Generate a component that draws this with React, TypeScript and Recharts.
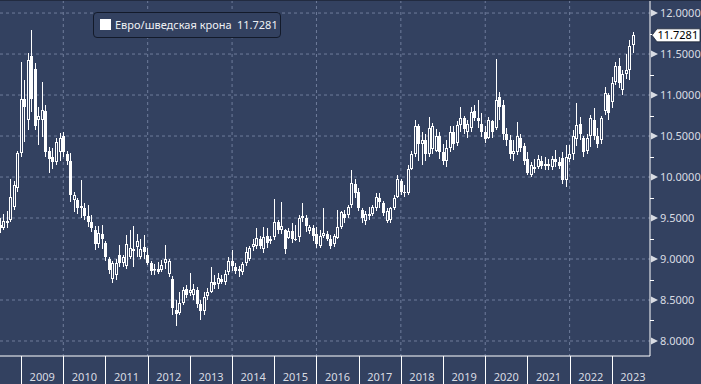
import React from 'react';
import { ComposedChart, Bar, XAxis, YAxis, CartesianGrid } from 'recharts';

// ---------- data (monthly candles, June 2008 – June 2023) ----------
const SERIES_NAME = 'Евро/шведская крона';
const FIRST_YEAR = 2008;
const FIRST_MONTH = 6; // June 2008 (candles sit at month end)

const openValues: number[] = [
  9.42, 9.38, 9.46, 9.48, 9.64, 9.86, 10.29,
  10.95, 10.70, 11.48, 11.32, 10.70, 10.70, 10.80, 10.32, 10.25, 10.18, 10.30, 10.50,
  10.28, 10.20, 9.72, 9.72, 9.62, 9.62, 9.52, 9.45, 9.35, 9.18, 9.30, 9.20,
  9.00, 8.76, 8.80, 9.05, 8.95, 8.92, 9.02, 9.12, 9.15, 9.03, 9.15, 9.05,
  8.95, 8.86, 8.88, 8.86, 8.95, 8.82, 8.76, 8.38, 8.34, 8.46, 8.64, 8.58,
  8.56, 8.62, 8.45, 8.36, 8.55, 8.60, 8.72, 8.70, 8.76, 8.72, 8.84, 8.98,
  8.90, 8.85, 8.84, 8.95, 9.00, 9.15, 9.16, 9.25, 9.12, 9.28, 9.22, 9.27,
  9.45, 9.35, 9.35, 9.26, 9.34, 9.25, 9.27, 9.50, 9.50, 9.34, 9.38, 9.30,
  9.16, 9.28, 9.30, 9.25, 9.18, 9.26, 9.39, 9.55, 9.54, 9.66, 9.92, 9.82,
  9.60, 9.46, 9.55, 9.55, 9.62, 9.75, 9.68, 9.46, 9.48, 9.62, 9.76, 9.95,
  9.82, 9.80, 10.10, 10.28, 10.62, 10.40, 10.45, 10.28, 10.34, 10.32, 10.50, 10.30,
  10.20, 10.35, 10.55, 10.42, 10.64, 10.72, 10.55, 10.60, 10.80, 10.72, 10.65, 10.55,
  10.48, 10.68, 10.60, 10.98, 10.88, 10.52, 10.45, 10.28, 10.30, 10.48, 10.38, 10.22,
  10.03, 10.12, 10.12, 10.20, 10.14, 10.16, 10.12, 10.22, 10.18, 10.23, 9.96, 10.22,
  10.28, 10.46, 10.65, 10.48, 10.32, 10.50, 10.70, 10.50, 10.45, 10.80, 11.00, 10.92,
  11.16, 11.35, 11.06, 11.26, 11.30, 11.61,
];

const highValues: number[] = [
  9.50, 9.55, 9.58, 9.98, 9.95, 10.32, 11.40,
  11.18, 11.51, 11.79, 11.39, 10.85, 11.16, 10.88, 10.37, 10.35, 10.47, 10.54, 10.55,
  10.32, 10.29, 9.82, 9.74, 9.96, 9.68, 9.66, 9.54, 9.40, 9.40, 9.42, 9.22,
  9.03, 8.97, 9.00, 9.17, 9.05, 9.29, 9.35, 9.40, 9.30, 9.25, 9.29, 9.14,
  8.97, 8.94, 8.96, 8.99, 9.17, 9.00, 8.79, 8.50, 8.60, 8.66, 8.68, 8.83,
  8.70, 8.66, 8.50, 8.60, 8.65, 8.90, 8.80, 8.83, 8.80, 8.86, 9.02, 9.11,
  8.95, 8.92, 8.96, 9.15, 9.16, 9.24, 9.38, 9.28, 9.39, 9.38, 9.28, 9.73,
  9.48, 9.70, 9.36, 9.38, 9.44, 9.41, 9.54, 9.68, 9.54, 9.42, 9.41, 9.39,
  9.35, 9.62, 9.34, 9.29, 9.30, 9.60, 9.58, 9.60, 9.66, 10.09, 9.98, 9.87,
  9.62, 9.58, 9.63, 9.66, 9.80, 9.80, 9.71, 9.62, 9.64, 9.78, 10.02, 9.98,
  9.90, 10.15, 10.32, 10.70, 10.65, 10.55, 10.52, 10.73, 10.66, 10.58, 10.55, 10.40,
  10.45, 10.62, 10.62, 10.68, 10.85, 10.74, 10.70, 10.86, 10.88, 10.94, 10.78, 10.62,
  10.73, 10.70, 11.44, 11.04, 10.94, 10.60, 10.51, 10.45, 10.67, 10.52, 10.41, 10.30,
  10.18, 10.22, 10.27, 10.26, 10.24, 10.22, 10.26, 10.33, 10.25, 10.30, 10.39, 10.39,
  10.57, 10.90, 10.73, 10.50, 10.52, 10.76, 10.84, 10.60, 10.75, 11.10, 11.02, 11.22,
  11.40, 11.45, 11.30, 11.50, 11.67, 11.77,
];

const lowValues: number[] = [
  9.32, 9.35, 9.38, 9.45, 9.60, 9.82, 10.24,
  10.43, 10.57, 10.79, 10.57, 10.39, 10.49, 10.24, 10.05, 10.10, 10.15, 10.20, 10.24,
  10.15, 9.70, 9.57, 9.55, 9.50, 9.48, 9.39, 9.33, 9.11, 9.14, 9.12, 8.98,
  8.82, 8.71, 8.74, 8.90, 8.90, 8.88, 9.00, 8.90, 9.02, 9.00, 9.00, 8.93,
  8.80, 8.80, 8.82, 8.84, 8.88, 8.78, 8.32, 8.18, 8.32, 8.44, 8.52, 8.55,
  8.50, 8.40, 8.26, 8.32, 8.50, 8.58, 8.64, 8.64, 8.70, 8.68, 8.80, 8.85,
  8.82, 8.78, 8.80, 8.92, 8.97, 9.10, 9.12, 9.12, 9.07, 9.14, 9.18, 9.23,
  9.30, 9.30, 9.06, 9.24, 9.20, 9.22, 9.21, 9.45, 9.33, 9.30, 9.22, 9.13,
  9.13, 9.26, 9.22, 9.12, 9.15, 9.24, 9.37, 9.44, 9.50, 9.62, 9.75, 9.58,
  9.44, 9.42, 9.48, 9.52, 9.58, 9.62, 9.52, 9.44, 9.44, 9.60, 9.74, 9.78,
  9.76, 9.78, 10.08, 10.25, 10.20, 10.15, 10.20, 10.25, 10.28, 10.30, 10.22, 10.15,
  10.12, 10.30, 10.33, 10.38, 10.55, 10.52, 10.48, 10.55, 10.68, 10.60, 10.49, 10.42,
  10.46, 10.48, 10.57, 10.70, 10.45, 10.38, 10.22, 10.20, 10.27, 10.30, 10.15, 10.02,
  10.00, 10.05, 10.10, 10.10, 10.08, 10.08, 10.09, 10.12, 10.10, 9.92, 9.88, 10.18,
  10.21, 10.38, 10.45, 10.24, 10.28, 10.37, 10.45, 10.35, 10.40, 10.76, 10.70, 10.84,
  11.12, 11.08, 11.00, 11.20, 11.18, 11.51,
];

const closeValues: number[] = [
  9.38, 9.46, 9.44, 9.76, 9.90, 10.29, 10.95,
  10.85, 11.43, 10.95, 10.62, 10.74, 10.82, 10.30, 10.22, 10.18, 10.43, 10.48, 10.30,
  10.20, 9.78, 9.78, 9.62, 9.65, 9.52, 9.45, 9.38, 9.18, 9.32, 9.25, 9.02,
  8.86, 8.95, 8.95, 8.95, 9.02, 9.18, 9.13, 9.10, 9.22, 9.12, 9.08, 8.95,
  8.85, 8.88, 8.84, 8.93, 9.00, 8.97, 8.40, 8.33, 8.46, 8.62, 8.56, 8.62,
  8.64, 8.45, 8.36, 8.54, 8.60, 8.72, 8.68, 8.77, 8.72, 8.82, 8.98, 8.92,
  8.85, 8.88, 8.94, 9.08, 9.14, 9.18, 9.26, 9.16, 9.27, 9.20, 9.25, 9.45,
  9.35, 9.40, 9.12, 9.34, 9.25, 9.24, 9.50, 9.52, 9.40, 9.39, 9.28, 9.18,
  9.28, 9.32, 9.25, 9.16, 9.28, 9.39, 9.57, 9.50, 9.63, 9.93, 9.80, 9.62,
  9.50, 9.55, 9.52, 9.63, 9.76, 9.70, 9.56, 9.58, 9.62, 9.75, 9.98, 9.82,
  9.80, 10.10, 10.28, 10.62, 10.40, 10.45, 10.28, 10.60, 10.62, 10.50, 10.30, 10.20,
  10.35, 10.55, 10.40, 10.64, 10.72, 10.58, 10.65, 10.79, 10.72, 10.68, 10.55, 10.46,
  10.70, 10.55, 10.94, 10.85, 10.52, 10.45, 10.28, 10.32, 10.50, 10.35, 10.20, 10.05,
  10.15, 10.10, 10.22, 10.14, 10.16, 10.13, 10.22, 10.18, 10.14, 9.96, 10.25, 10.28,
  10.50, 10.63, 10.52, 10.30, 10.48, 10.72, 10.50, 10.40, 10.72, 11.02, 10.78, 11.15,
  11.36, 11.15, 11.26, 11.30, 11.60, 11.7281,
];

const YEAR_TICKS = [2009, 2010, 2011, 2012, 2013, 2014, 2015, 2016, 2017, 2018, 2019, 2020, 2021, 2022, 2023];
const GRID_YEARS = [2010, 2012, 2014, 2016, 2018, 2020, 2022];
const PRICE_TICKS = [8, 8.5, 9, 9.5, 10, 10.5, 11, 11.5, 12];
const MINOR_PRICE_TICKS = [8.25, 8.75, 9.25, 9.75, 10.25, 10.75, 11.25, 11.75];

// ---------- layout / style ----------
const W = 701;
const H = 384;
const Y_AXIS_W = 51;
const X_AXIS_H = 28;
const X_MIN = 2008.5;
const X_MAX = 2023.905;
const Y_MIN = 7.817;
const Y_MAX = 12.159;
const BG = '#334160';
const GRID = '#6f7c9b';
const AXIS = '#ffffff';
const LABEL = '#d9dce3';
const FONT = "'Noto Sans', sans-serif";

const LAST = closeValues[closeValues.length - 1];
const YEAR_PX = (W - Y_AXIS_W) / (X_MAX - X_MIN);

const data = openValues.map((o, i) => ({
  t: FIRST_YEAR + (FIRST_MONTH + i) / 12,
  o,
  h: highValues[i],
  l: lowValues[i],
  c: closeValues[i],
  range: [lowValues[i], highValues[i]],
}));

function Candle(props: any) {
  const { x, y, width, height, payload } = props;
  if (x == null || y == null || !payload) return null;
  const { o, h, l, c } = payload;
  const top = Math.min(y, y + height);
  const bot = Math.max(y, y + height);
  const k = h > l ? (bot - top) / (h - l) : 0;
  const py = (v: number) => top + (h - v) * k;
  const cx = Math.round(x + width / 2);
  const wTop = Math.round(py(h));
  const wBot = Math.round(py(l));
  const bTop = Math.round(py(Math.max(o, c)));
  const bBot = Math.round(py(Math.min(o, c)));
  const up = c >= o;
  return (
    <g>
      <line x1={cx + 0.5} x2={cx + 0.5} y1={wTop} y2={wBot} stroke="#ffffff" strokeWidth={1} />
      {up ? (
        <rect
          x={cx - 0.5}
          y={bTop + 0.5}
          width={2}
          height={Math.max(bBot - bTop - 1, 0.5)}
          fill={BG}
          stroke="#ffffff"
          strokeWidth={1}
        />
      ) : (
        <rect x={cx - 1} y={bTop} width={3} height={Math.max(bBot - bTop, 1)} fill="#ffffff" />
      )}
    </g>
  );
}

function YearTick(props: any) {
  const { x, y, payload } = props;
  const px = Math.round(x) + 0.5;
  return (
    <g>
      <line x1={px} x2={px} y1={y} y2={y + X_AXIS_H} stroke={AXIS} strokeWidth={1} />
      <text
        x={x + YEAR_PX / 2}
        y={y + 25}
        textAnchor="middle"
        fill={LABEL}
        fontSize={11}
        fontFamily={FONT}
      >
        {payload.value}
      </text>
    </g>
  );
}

function PriceTick(props: any) {
  const { x, y, payload } = props;
  const v = payload.value;
  if (v === LAST) {
    return (
      <g>
        <polygon
          points={`${x + 2},${y} ${x + 7},${y - 6.5} ${x + 50},${y - 6.5} ${x + 50},${y + 6.5} ${x + 7},${y + 6.5}`}
          fill="#ffffff"
          stroke="#1c2436"
          strokeWidth={0.8}
        />
        <text x={x + 7.5} y={y} dy="0.36em" fill="#000000" fontSize={11} fontFamily={FONT}>
          {LAST.toFixed(4)}
        </text>
      </g>
    );
  }
  if (PRICE_TICKS.includes(v)) {
    return (
      <g>
        <polygon points={`${x + 1},${y - 3.5} ${x + 8},${y} ${x + 1},${y + 3.5}`} fill={LABEL} />
        <text x={x + 10} y={y} dy="0.36em" fill={LABEL} fontSize={11} fontFamily={FONT}>
          {v.toFixed(4)}
        </text>
      </g>
    );
  }
  const py = Math.round(y) + 0.5;
  return <line x1={x} x2={x + 4} y1={py} y2={py} stroke={AXIS} strokeWidth={1} />;
}

export default function App() {
  return (
    <div
      style={{
        position: 'fixed',
        left: 0,
        top: 0,
        width: W,
        height: H,
        background: BG,
        fontFamily: FONT,
        overflow: 'hidden',
      }}
    >
      <ComposedChart width={W} height={H} data={data} margin={{ top: 0, right: 0, bottom: 0, left: 0 }}>
        <CartesianGrid
          stroke={GRID}
          strokeDasharray="3 3"
          horizontalValues={PRICE_TICKS}
          verticalValues={GRID_YEARS}
        />
        <XAxis
          dataKey="t"
          type="number"
          domain={[X_MIN, X_MAX]}
          allowDataOverflow
          ticks={YEAR_TICKS}
          interval={0}
          height={X_AXIS_H}
          axisLine={{ stroke: AXIS, strokeWidth: 1 }}
          tickLine={false}
          tickSize={0}
          tickMargin={0}
          tick={<YearTick />}
        />
        <YAxis
          orientation="right"
          type="number"
          domain={[Y_MIN, Y_MAX]}
          allowDataOverflow
          ticks={[...MINOR_PRICE_TICKS, ...PRICE_TICKS, LAST]}
          interval={0}
          width={Y_AXIS_W}
          axisLine={{ stroke: AXIS, strokeWidth: 1 }}
          tickLine={false}
          tickSize={0}
          tickMargin={0}
          tick={<PriceTick />}
        />
        <Bar dataKey="range" barSize={3} shape={<Candle />} isAnimationActive={false} />
      </ComposedChart>
      <div style={{ position: 'absolute', left: 0, top: 0, width: W, height: 1, background: '#222b40' }} />
      <div
        style={{
          position: 'absolute',
          left: 93,
          top: 12,
          width: 188,
          height: 26,
          border: '1px solid #131a2a',
          borderRadius: 4,
          boxSizing: 'border-box',
          background: BG,
          color: '#eef0f4',
          fontSize: 11,
        }}
      >
        <div style={{ position: 'absolute', left: 6, top: 6, width: 11, height: 11, background: '#ffffff' }} />
        <span style={{ position: 'absolute', left: 21, top: 3, lineHeight: '17px', whiteSpace: 'nowrap' }}>
          {SERIES_NAME}
        </span>
        <span style={{ position: 'absolute', left: 143, top: 3, lineHeight: '17px', whiteSpace: 'nowrap' }}>
          {LAST.toFixed(4)}
        </span>
      </div>
    </div>
  );
}
